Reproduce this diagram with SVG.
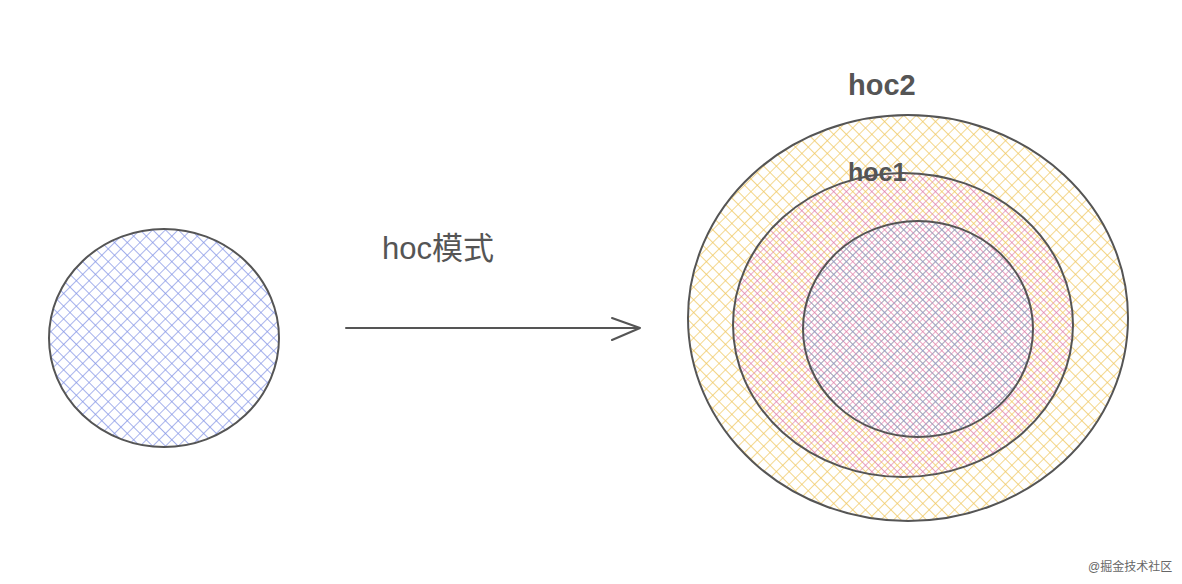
<svg xmlns="http://www.w3.org/2000/svg" width="1182" height="584" viewBox="0 0 1182 584">
<defs>
<pattern id="hBlue" width="9" height="9" patternUnits="userSpaceOnUse" patternTransform="rotate(45)">
<path d="M0 0H9M0 0V9" stroke="#8696e6" stroke-width="1.4" fill="none"/>
</pattern>
<pattern id="hYellow" width="9" height="9" patternUnits="userSpaceOnUse" patternTransform="rotate(45)">
<path d="M0 0H9M0 0V9" stroke="#f0c860" stroke-width="1.4" fill="none"/>
</pattern>
<pattern id="hPink" width="9" height="9" patternUnits="userSpaceOnUse" patternTransform="rotate(45) translate(4.5 4.5)">
<path d="M0 0H9M0 0V9" stroke="#e07fa8" stroke-width="1.3" fill="none"/>
</pattern>
</defs>
<style>
.ring{stroke:#555;stroke-width:2;}
.lbl{font-family:"Liberation Sans",sans-serif;fill:#555;font-weight:bold;}
.conn{stroke:#555;stroke-width:2;fill:none;stroke-linecap:round;stroke-linejoin:round;}
</style>
<rect width="1182" height="584" fill="#ffffff"/>
<g id="node-single">
<ellipse cx="164" cy="338" rx="115" ry="109" fill="url(#hBlue)" class="ring"/>
</g>
<g id="node-hoc2">
<ellipse cx="908" cy="318" rx="220" ry="203" fill="url(#hYellow)" class="ring"/>
<text x="848" y="95" font-size="29" class="lbl">hoc2</text>
</g>
<g id="node-hoc1">
<ellipse cx="903" cy="325" rx="170" ry="152" fill="url(#hPink)" class="ring"/>
<text x="848" y="181" font-size="25" class="lbl">hoc1</text>
</g>
<g id="node-inner">
<ellipse cx="918" cy="329" rx="115" ry="108" fill="url(#hBlue)" class="ring"/>
</g>
<g id="connectors">
<path class="conn" d="M346 328H640M612 318L640 328L612 340"/>
<text x="382" y="259" font-size="31" fill="#555" font-family="'Liberation Sans','Noto Sans CJK SC',sans-serif">hoc模式</text>
</g>
<text x="1088" y="571" font-size="12" fill="#666" font-family="'Liberation Sans','Noto Sans CJK SC',sans-serif">@掘金技术社区</text>
</svg>
